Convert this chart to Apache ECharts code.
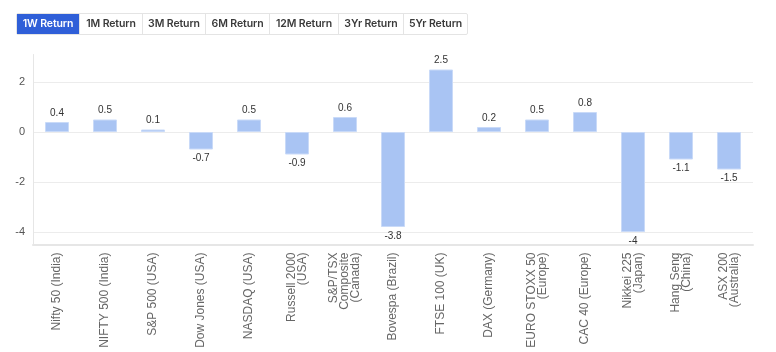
<!DOCTYPE html>
<html>
<head>
<meta charset="utf-8">
<script src="https://cdn.jsdelivr.net/npm/echarts@6/dist/echarts.min.js"></script>
<style>
  html, body { margin: 0; padding: 0; background: #fff; }
  .tabs {
    position: absolute; top: 13px; left: 16px;
    display: flex; border: 1px solid #e4e4e4; border-radius: 2px;
    font-family: Inter, "Noto Sans", sans-serif; font-size: 10.5px; font-weight: 600;
  }
  .tab {
    height: 20px; line-height: 20px; text-align: center; color: #3a3a3a;
    border-left: 1px solid #e4e4e4; white-space: nowrap; letter-spacing: -0.1px;
  }
  .tab:first-child { border-left: none; }
  .tab.active { background: #2f5fd8; color: #fff; }
  #chart { position: absolute; top: 0; left: 0; width: 776px; height: 352px; }
</style>
</head>
<body>
<div id="chart"></div>
<div class="tabs" id="tabs"></div>
<script>
const tabs = ['1W Return', '1M Return', '3M Return', '6M Return', '12M Return', '3Yr Return', '5Yr Return']
const tabWidths = [62, 62, 62, 63, 68, 64, 63]
const categories = [
  'Nifty 50 (India)', 'NIFTY 500 (India)', 'S&P 500 (USA)', 'Dow Jones (USA)', 'NASDAQ (USA)',
  'Russell 2000\n(USA)', 'S&P/TSX\nComposite\n(Canada)', 'Bovespa (Brazil)', 'FTSE 100 (UK)',
  'DAX (Germany)', 'EURO STOXX 50\n(Europe)', 'CAC 40 (Europe)', 'Nikkei 225\n(Japan)',
  'Hang Seng\n(China)', 'ASX 200\n(Australia)'
]
const returns1W = [0.4, 0.5, 0.1, -0.7, 0.5, -0.9, 0.6, -3.8, 2.5, 0.2, 0.5, 0.8, -4, -1.1, -1.5]
const yTicks = [2, 0, -2, -4]

const tabBox = document.getElementById('tabs')
tabs.forEach((t, i) => {
  const d = document.createElement('div')
  d.className = 'tab' + (i === 0 ? ' active' : '')
  d.style.width = tabWidths[i] + 'px'
  d.textContent = t
  tabBox.appendChild(d)
})

const chart = echarts.init(document.getElementById('chart'))
chart.setOption({
  animation: false,
  grid: { top: 54.5, left: 33, right: 23, bottom: 107.5 },
  xAxis: {
    type: 'category',
    data: categories,
    axisLine: { onZero: false, lineStyle: { color: '#e6e6e6', width: 2 } },
    axisTick: { alignWithLabel: true, length: 5, lineStyle: { color: '#e6e6e6' } },
    axisLabel: {
      rotate: 90, interval: 0, color: '#666', fontSize: 12, lineHeight: 11,
      fontFamily: '"Liberation Sans", Arial, sans-serif', margin: 8
    }
  },
  yAxis: {
    type: 'value',
    min: -4.5,
    max: 3.1,
    axisLine: { show: true, lineStyle: { color: '#e6e6e6', width: 1 } },
    axisTick: { show: false, customValues: yTicks },
    axisLabel: {
      customValues: yTicks, color: '#555', fontSize: 11, margin: 8,
      fontFamily: '"Liberation Sans", Arial, sans-serif'
    },
    splitLine: { show: true, lineStyle: { color: '#ececec' } }
  },
  series: [{
    type: 'bar',
    barWidth: 24,
    data: returns1W.map(v => ({
      value: v,
      label: { position: v >= 0 ? 'top' : 'bottom' }
    })),
    itemStyle: { color: '#a9c4f3', borderColor: '#c9daf8', borderWidth: 1 },
    label: {
      show: true, color: '#333', fontSize: 10, distance: 4,
      fontFamily: '"Liberation Sans", Arial, sans-serif'
    }
  }]
})
</script>
</body>
</html>
